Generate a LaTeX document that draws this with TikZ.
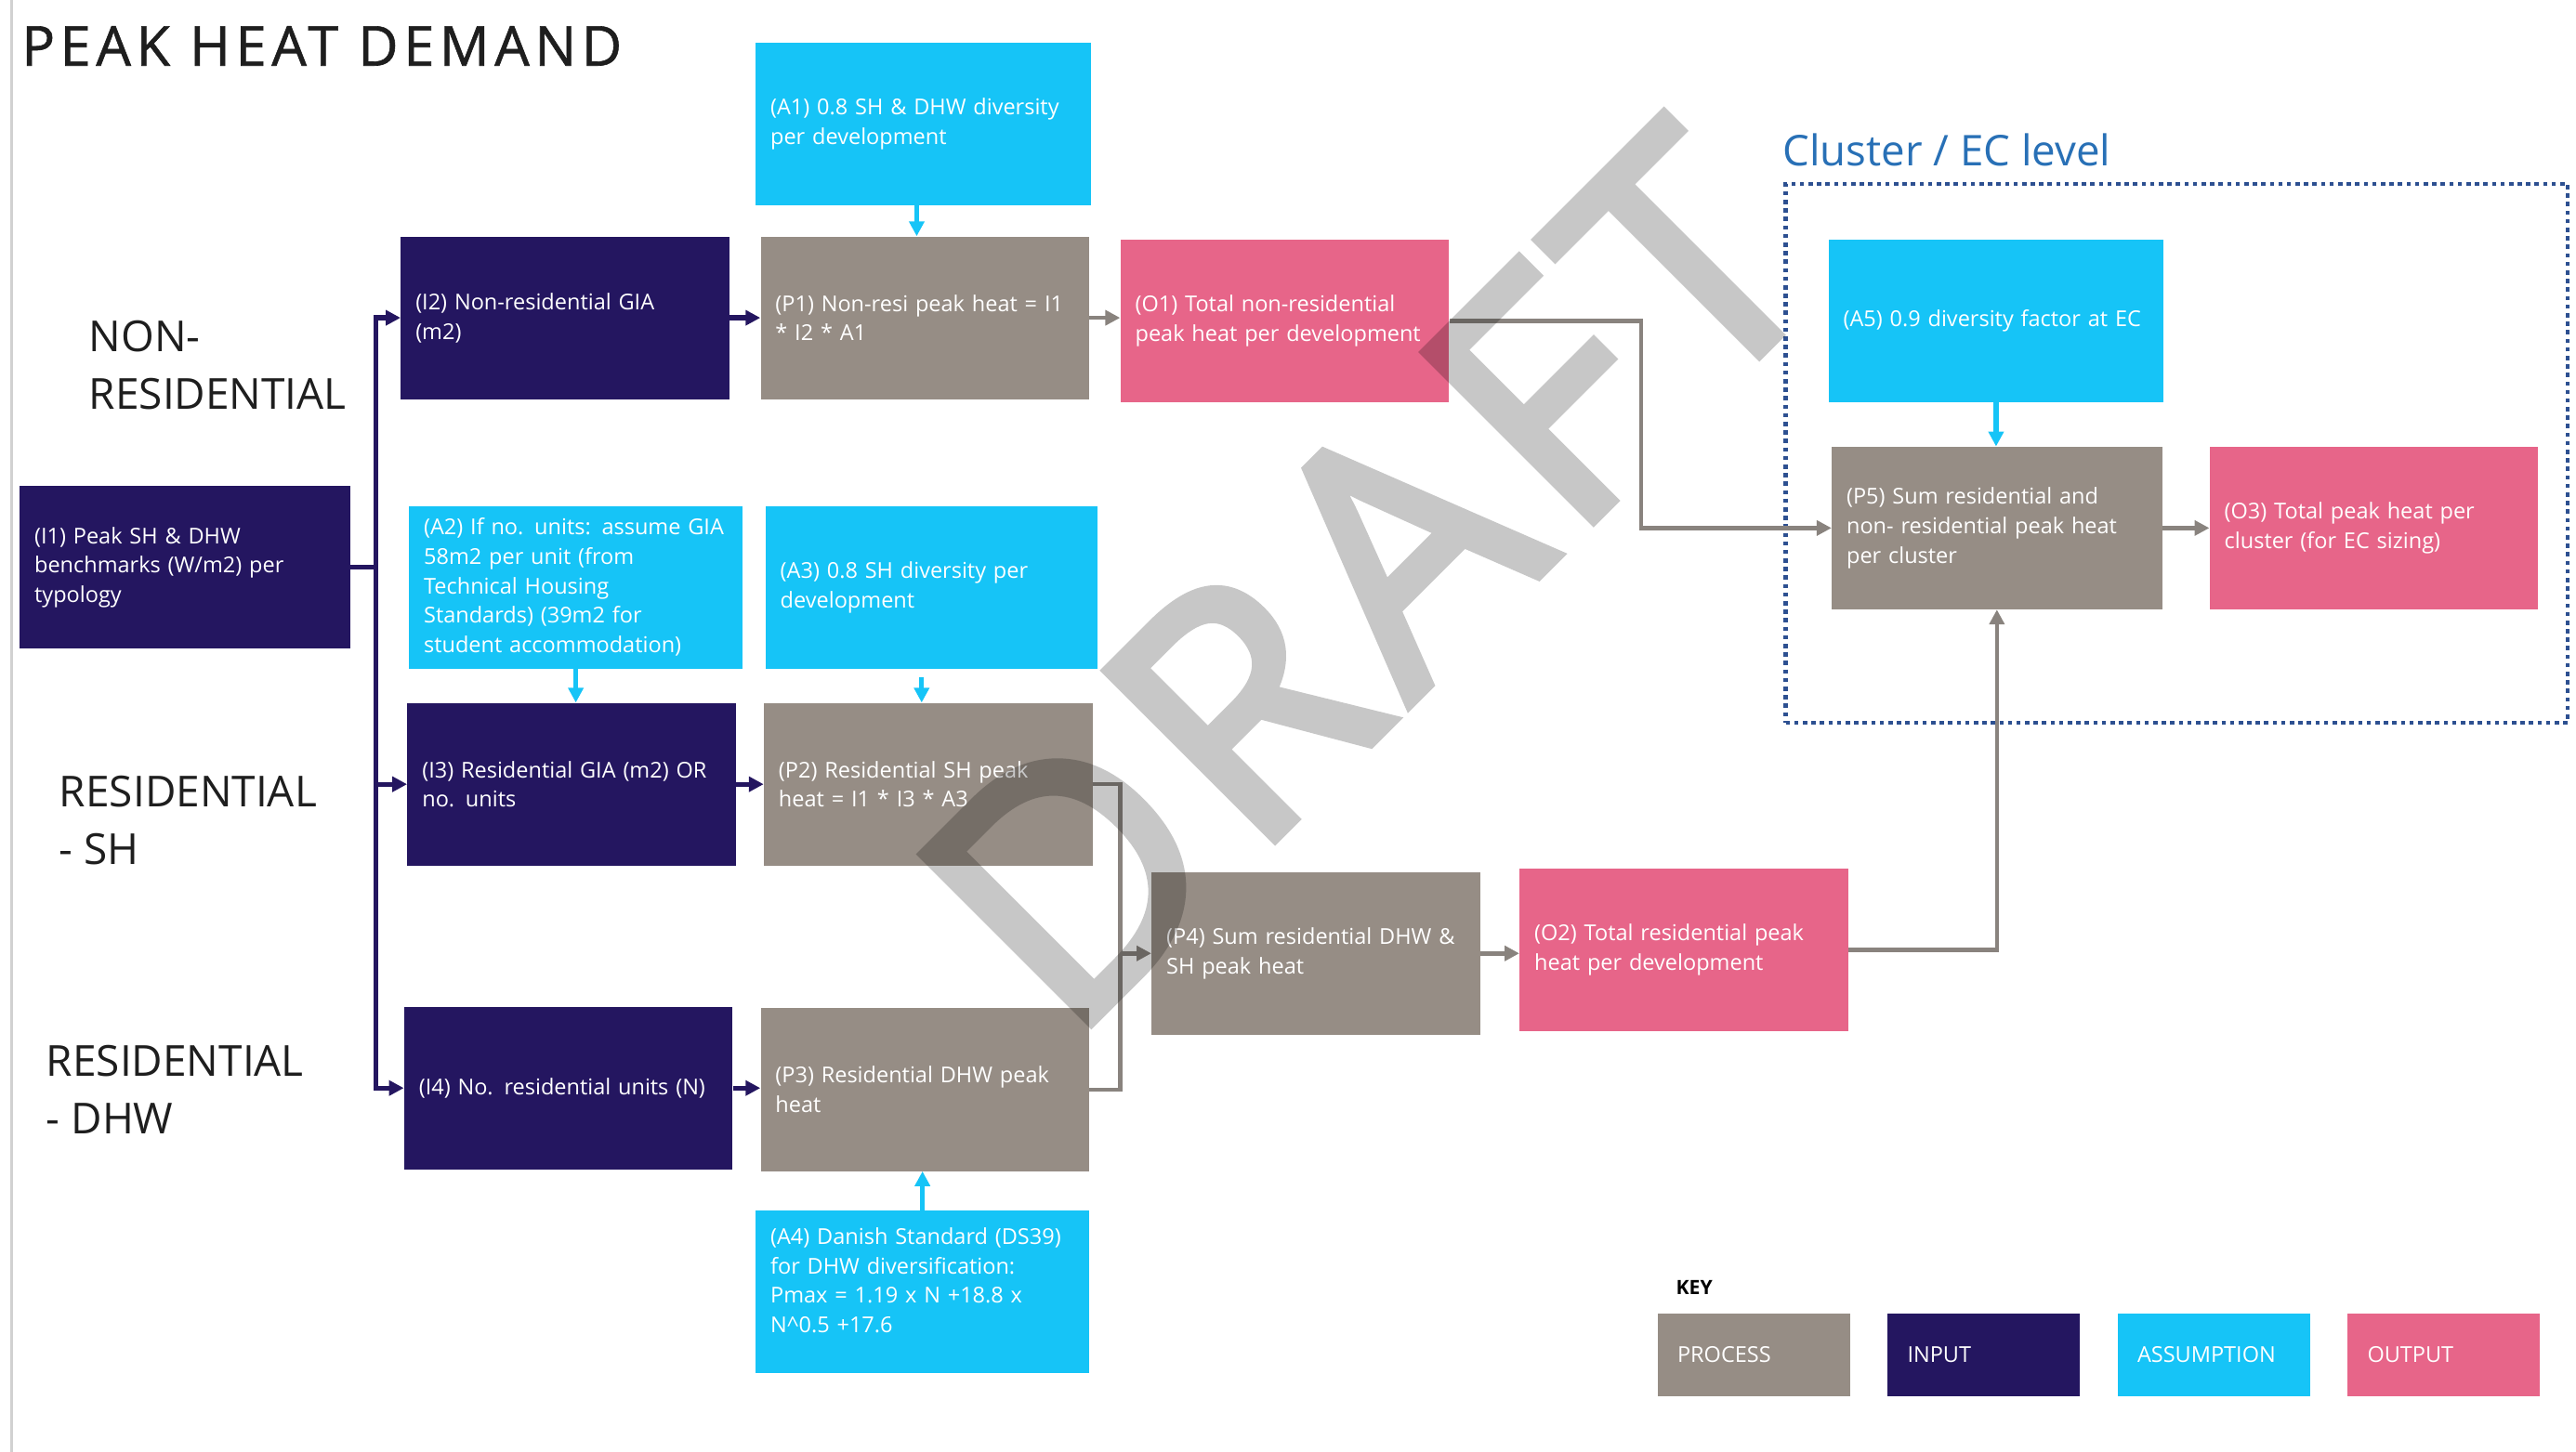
\documentclass[tikz,border=0pt]{standalone}
\usepackage{fontspec}
\setmainfont{Open Sans}
\newfontfamily\spacedfont{Open Sans}[LetterSpace=9.5, FakeBold=1]
\newfontfamily\wmfont{Open Sans}[LetterSpace=5, FakeBold=3]
\usetikzlibrary{arrows.meta}

\definecolor{inputc}{RGB}{36,22,96}
\definecolor{processc}{RGB}{150,141,133}
\definecolor{assumec}{RGB}{22,196,247}
\definecolor{outputc}{RGB}{231,101,137}
\definecolor{linkgray}{RGB}{137,131,126}
\definecolor{clusterblue}{RGB}{40,112,182}
\definecolor{framec}{RGB}{45,80,145}
\definecolor{labelc}{RGB}{30,30,30}

\newcommand\boxtext{\fontsize{13.3}{18}\selectfont}

\tikzset{
  blk/.style={rectangle, minimum height=99pt, inner xsep=9pt, inner ysep=0pt,
    align=left, text width=182pt, font=\boxtext, text=white},
  inp/.style={blk, fill=inputc},
  proc/.style={blk, fill=processc},
  assum/.style={blk, fill=assumec},
  outp/.style={blk, fill=outputc},
  keybox/.style={rectangle, minimum height=50pt, inner xsep=12pt, inner ysep=0pt,
    align=left, text width=93pt, font=\boxtext, text=white},
  seclabel/.style={align=left, inner sep=0pt, text=labelc,
    font=\fontsize{26}{35}\selectfont},
  tip/.style={-{Triangle[length=9pt,width=9pt]}},
  navyln/.style={draw=inputc, line width=3pt},
  navyarr/.style={navyln, tip},
  cyanarr/.style={draw=assumec, line width=3pt, tip},
  grayln/.style={draw=linkgray, line width=2.6pt},
  grayarr/.style={grayln, tip},
}

\begin{document}
\begin{tikzpicture}[x=1pt,y=-1pt]
\useasboundingbox (0,0) rectangle (1568,884);
\fill[white] (0,0) rectangle (1568,884);
\draw[line width=2pt, black!18] (7,0) -- (7,884);

% heading and row labels
\node[anchor=base west, inner sep=0pt, text=labelc, font=\spacedfont\fontsize{33.6}{40}\selectfont] (title) at (13,40) {PEAK HEAT DEMAND};
\node[seclabel, anchor=west] (lblnonres) at (54,222.5) {NON-\\RESIDENTIAL};
\node[seclabel, anchor=west] (lblsh) at (36,499.5) {RESIDENTIAL\\- SH};
\node[seclabel, anchor=west] (lbldhw) at (28,663.5) {RESIDENTIAL\\- DHW};

% cluster level frame
\node[draw=framec, line width=2.6pt, dash pattern=on 2.6pt off 2.6pt,
  minimum width=476pt, minimum height=328pt, inner sep=0pt] (cluster) at (1325,276) {};
\node[anchor=base west, inner sep=0pt, text=clusterblue, font=\fontsize{25.8}{30}\selectfont] (clusterlbl) at (1085,101) {Cluster / EC level};

% boxes
\node[assum, text width=186pt] (A1) at (562,75.5) {(A1) 0.8 SH \& DHW diversity\\per development};
\node[inp] (I2) at (344,193.5) {(I2) Non-residential GIA\\(m2)};
\node[proc] (P1) at (563,193.5) {(P1) Non-resi peak heat = I1\\{}* I2 * A1};
\node[outp] (O1) at (782,195.5) {(O1) Total non-residential\\peak heat per development};
\node[inp, text width=183pt] (I1) at (112.5,345.5) {(I1) Peak SH \& DHW\\benchmarks (W/m2) per\\typology};
\node[assum, text width=185pt] (A2) at (350.5,357.5) {(A2) If no. units: assume GIA\\58m2 per unit (from\\Technical Housing\\Standards) (39m2 for\\student accommodation)};
\node[assum, text width=184pt] (A3) at (567,357.5) {(A3) 0.8 SH diversity per\\development};
\node[inp] (I3) at (348,477.5) {(I3) Residential GIA (m2) OR\\no. units};
\node[proc] (P2) at (565,477.5) {(P2) Residential SH peak\\heat = I1 * I3 * A3};
\node[proc] (P4) at (801,580.5) {(P4) Sum residential DHW \&\\SH peak heat};
\node[outp] (O2) at (1025,578.5) {(O2) Total residential peak\\heat per development};
\node[inp] (I4) at (346,662.5) {(I4) No. residential units (N)};
\node[proc] (P3) at (563,663.5) {(P3) Residential DHW peak\\heat};
\node[assum, text width=185pt] (A4) at (561.5,786.5) {(A4) Danish Standard (DS39)\\for DHW diversification:\\Pmax = 1.19 x N +18.8 x\\N\textasciicircum 0.5 +17.6\\[-4pt]\mbox{}};
\node[assum, text width=186pt] (A5) at (1215,195.5) {(A5) 0.9 diversity factor at EC};
\node[proc, text width=183pt] (P5) at (1215.5,321.5) {(P5) Sum residential and\\non- residential peak heat\\per cluster};
\node[outp] (O3) at (1445,321.5) {(O3) Total peak heat per\\cluster (for EC sizing)};

% input connectors
\coordinate (bus) at (229,0);
\draw[navyln] (I1.east) -- (I1.east -| bus);
\draw[navyln, line cap=rect] (I2.west -| bus) -- (I4.west -| bus);
\draw[navyarr] (I2.west -| bus) -- (I2.west);
\draw[navyarr] (I3.west -| bus) -- (I3.west);
\draw[navyarr] (I4.west -| bus) -- (I4.west);
\draw[navyarr] (I2.east) -- (P1.west);
\draw[navyarr] (I3.east) -- (P2.west);
\draw[navyarr] (I4.east) -- (I4.east -| P3.west);

% assumption connectors
\draw[cyanarr] ([xshift=-4pt]A1.south) -- ([xshift=-4pt]A1.south |- P1.north);
\draw[cyanarr] (A2.south) -- (A2.south |- I3.north);
\draw[cyanarr, shorten <=5pt] ([xshift=-6pt]A3.south) -- ([xshift=-6pt]A3.south |- P2.north);
\draw[cyanarr] (A4.north) -- (A4.north |- P3.south);
\draw[cyanarr] (A5.south) -- (A5.south |- P5.north);

% process / output connectors
\draw[grayarr] (P1.east) -- (P1.east -| O1.west);
\coordinate (join) at (682,0);
\draw[grayln] (P2.east) -| (join |- P3.east) -- (P3.east);
\draw[grayarr] (join |- P4.west) -- (P4.west);
\draw[grayarr] (P4.east) -- (P4.east -| O2.west);
\coordinate (route) at (999,0);
\draw[grayarr] (O1.east) -| (route |- P5.west) -- (P5.west);
\draw[grayarr] (O2.east) -| (P5.south);
\draw[grayarr] (P5.east) -- (O3.west);

% key
\node[anchor=base west, inner sep=0pt, font=\bfseries\fontsize{12}{14}\selectfont] (keylbl) at (1020,788) {KEY};
\node[keybox, fill=processc] (kproc) at (1067.5,825) {PROCESS};
\node[keybox, fill=inputc] (kinp) at (1207.5,825) {INPUT};
\node[keybox, fill=assumec] (kass) at (1347.5,825) {ASSUMPTION};
\node[keybox, fill=outputc] (kout) at (1487.5,825) {OUTPUT};

% watermark
\begin{scope}[transparency group, opacity=0.22]
\node[rotate=45, inner sep=0pt, text=black,
  font=\wmfont\fontsize{203}{203}\selectfont] (draft) at (832,352) {DRAFT};
\end{scope}
\end{tikzpicture}
\end{document}
